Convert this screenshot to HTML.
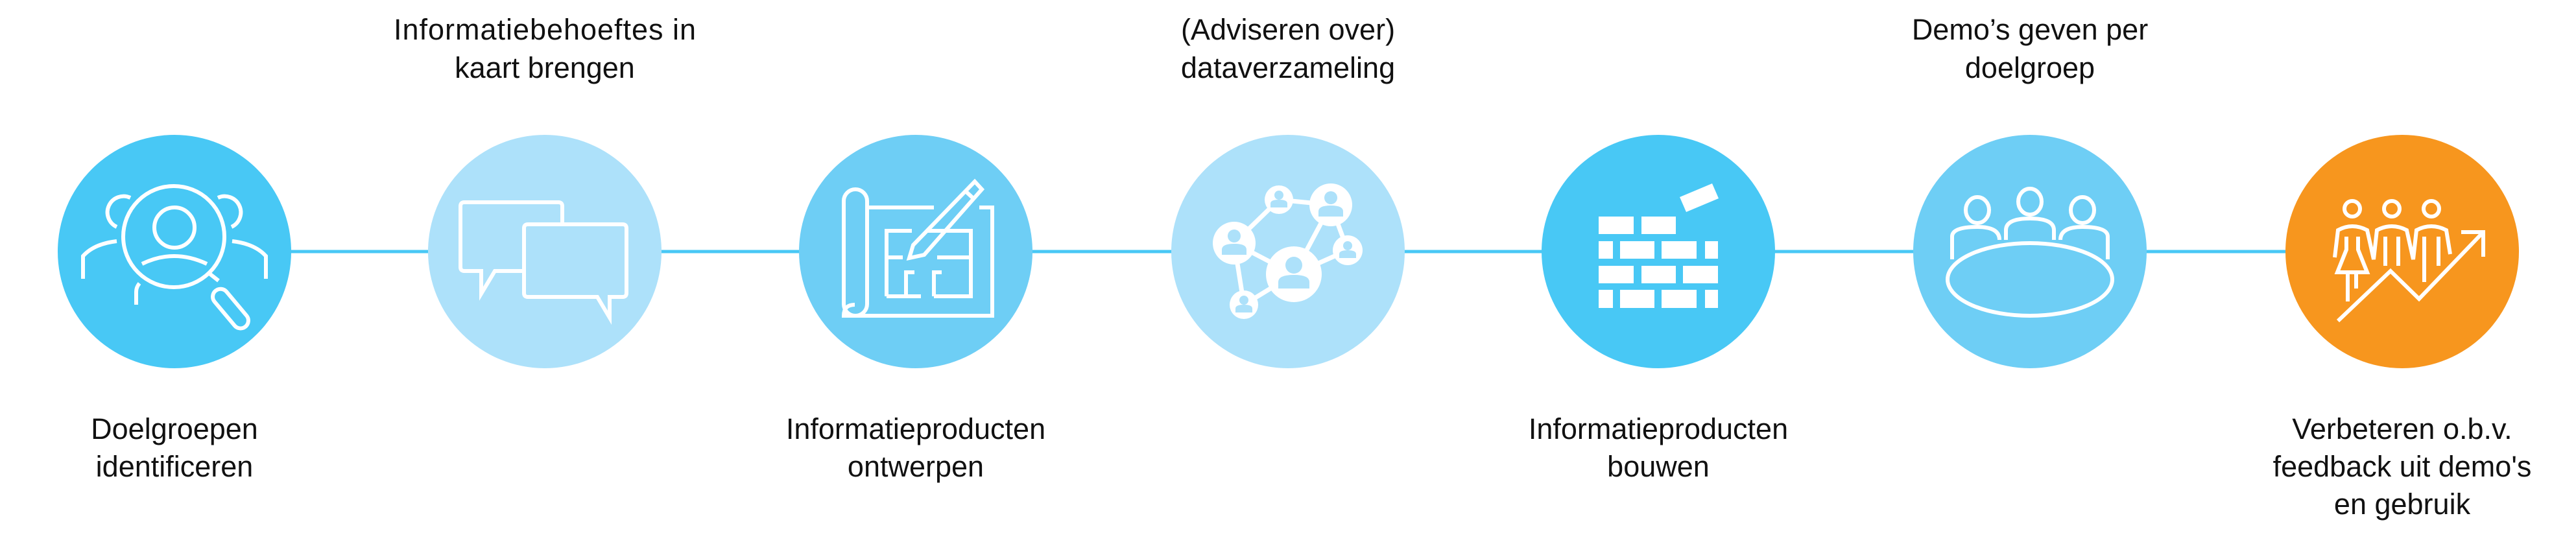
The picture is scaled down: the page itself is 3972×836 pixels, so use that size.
<!DOCTYPE html>
<html><head><meta charset="utf-8"><style>
html,body{margin:0;padding:0;background:#fff;}
svg{display:block;}
text{font-family:"Liberation Sans",sans-serif;font-size:45px;fill:#111;}
</style></head><body>
<svg width="3972" height="836" viewBox="0 0 3972 836" xmlns="http://www.w3.org/2000/svg">
<line x1="269" y1="388" x2="3704" y2="388" stroke="#48C8F5" stroke-width="5"/>
<circle cx="269" cy="388" r="180" fill="#48C8F5"/>
<circle cx="840" cy="388" r="180" fill="#ADE1FA"/>
<circle cx="1412" cy="388" r="180" fill="#6ECEF5"/>
<circle cx="1986" cy="388" r="180" fill="#ADE1FA"/>
<circle cx="2557" cy="388" r="180" fill="#48C8F5"/>
<circle cx="3130" cy="388" r="180" fill="#6ECEF5"/>
<circle cx="3704" cy="388" r="180" fill="#F7961E"/>

<g fill="none" stroke="#fff" stroke-width="6">
<!-- icon1 -->
<circle cx="268" cy="365" r="78"/>
<circle cx="269" cy="351" r="31"/>
<path d="M219 407 Q268 383 319 407"/>
<path d="M323 422 L337 433"/>
<rect x="330" y="445" width="24" height="72" rx="12" transform="rotate(-40 342 460)"/>
<path d="M201 305 A23 23 0 1 0 180 350"/>
<path d="M336 305 A23 23 0 1 1 357 350"/>
<path d="M180 372 Q145 376 128 395 L128 430"/>
<path d="M358 372 Q393 376 410 395 L410 430"/>
<path d="M215 437 Q210 443 210 450 L210 470"/>
<!-- icon2 -->
<path d="M867 345 V318 Q867 312 861 312 H716 Q710 312 710 318 V412 Q710 418 716 418 H742 V453 L763 418 H808"/>
<path d="M814 346 H960 Q966 346 966 352 V452 Q966 458 960 458 H940 V490 L921 458 H814 Q808 458 808 452 V352 Q808 346 814 346 Z"/>
<!-- icon3 -->
<rect x="1301" y="292" width="36" height="195" rx="18"/>
<path d="M1318 470 Q1301 470 1301 487 L1530 487 L1530 320 L1510 320"/>
<path d="M1337 320 H1440"/>
<path d="M1367 457 V356 H1406 M1430 356 H1497 V457 H1440 M1420 457 H1367 M1367 397 H1392 M1445 397 H1497 M1397 457 V420 H1410 M1440 457 V420 H1452"/>
<path d="M1503 280 L1514 292 L1425 393 L1402 398 L1408 378 Z"/>
<path d="M1490 296 L1503 308"/>
<!-- icon4 edges -->
<path d="M1903 375 L1972 308 L2052 316 L1995 423 L1903 375 L1918 470 L1995 423 L2078 386 L2052 316" stroke-width="7"/>
<!-- icon6 -->
<ellipse cx="3130" cy="431" rx="127" ry="56"/>
<ellipse cx="3049" cy="324" rx="18" ry="20"/>
<ellipse cx="3130" cy="311" rx="18" ry="20"/>
<ellipse cx="3211" cy="324" rx="18" ry="20"/>
<path d="M3010 400 V365 Q3010 350 3049 350 Q3083 350 3083 370"/>
<path d="M3093 370 V355 Q3093 337 3130 337 Q3167 337 3167 355 V370"/>
<path d="M3177 370 Q3177 350 3211 350 Q3250 350 3250 365 V400"/>
<!-- icon7 -->
<circle cx="3627" cy="322" r="12"/>
<circle cx="3688" cy="322" r="12"/>
<circle cx="3749" cy="322" r="12"/>
<path d="M3605 495 L3686 418 L3730 461 L3829 358 M3795 358 H3829 V396"/>
<path d="M3600 397 L3605 355 Q3627 343 3650 355 L3660 400 L3665 355 Q3688 343 3711 355 L3721 400 L3726 355 Q3749 343 3772 355 L3778 392"/>
<path d="M3618 365 V385 L3604 420 H3650 L3636 385 V365"/>
<path d="M3620 420 V465 M3633 420 V445"/>
<path d="M3678 365 V410 M3698 365 V410 M3738 365 V435 M3760 365 V410"/>
</g>
<!-- icon4 nodes -->
<g fill="#fff">
<circle cx="1903" cy="375" r="33"/>
<circle cx="1972" cy="308" r="22"/>
<circle cx="2052" cy="316" r="33"/>
<circle cx="2078" cy="386" r="23"/>
<circle cx="1995" cy="423" r="43"/>
<circle cx="1918" cy="470" r="22"/>
</g>
<g fill="#ADE1FA">
<circle cx="1903" cy="364" r="10"/><path d="M1884 393 V385 Q1884 376 1903 376 Q1922 376 1922 385 V393 Z"/>
<circle cx="1972" cy="301" r="7"/><path d="M1959 320 V314 Q1959 308 1972 308 Q1985 308 1985 314 V320 Z"/>
<circle cx="2052" cy="305" r="10"/><path d="M2033 334 V326 Q2033 317 2052 317 Q2071 317 2071 326 V334 Z"/>
<circle cx="2078" cy="379" r="7"/><path d="M2065 398 V392 Q2065 386 2078 386 Q2091 386 2091 392 V398 Z"/>
<circle cx="1995" cy="409" r="13"/><path d="M1971 445 V435 Q1971 424 1995 424 Q2019 424 2019 435 V445 Z"/>
<circle cx="1918" cy="463" r="7"/><path d="M1905 482 V476 Q1905 470 1918 470 Q1931 470 1931 476 V482 Z"/>
</g>
<!-- icon5 bricks -->
<g fill="#fff">
<rect x="2465" y="334" width="54" height="27"/><rect x="2531" y="334" width="53" height="27"/>
<rect x="2465" y="372" width="22" height="27"/><rect x="2498" y="372" width="53" height="27"/><rect x="2562" y="372" width="54" height="27"/><rect x="2629" y="372" width="20" height="27"/>
<rect x="2465" y="410" width="54" height="27"/><rect x="2531" y="410" width="53" height="27"/><rect x="2595" y="410" width="54" height="27"/>
<rect x="2465" y="447" width="22" height="28"/><rect x="2498" y="447" width="53" height="28"/><rect x="2562" y="447" width="54" height="28"/><rect x="2629" y="447" width="20" height="28"/>
<path d="M2590 304 L2640 283 L2650 306 L2600 327 Z"/>
</g>

<g text-anchor="middle">
<text x="840" y="61" textLength="466">Informatiebehoeftes in</text>
<text x="840" y="120">kaart brengen</text>
<text x="1986" y="61">(Adviseren over)</text>
<text x="1986" y="120">dataverzameling</text>
<text x="3130" y="61">Demo’s geven per</text>
<text x="3130" y="120">doelgroep</text>
<text x="269" y="677">Doelgroepen</text>
<text x="269" y="735">identificeren</text>
<text x="1412" y="677">Informatieproducten</text>
<text x="1412" y="735">ontwerpen</text>
<text x="2557" y="677">Informatieproducten</text>
<text x="2557" y="735">bouwen</text>
<text x="3704" y="677">Verbeteren o.b.v.</text>
<text x="3704" y="735">feedback uit demo's</text>
<text x="3704" y="793">en gebruik</text>
</g>
</svg>
</body></html>
